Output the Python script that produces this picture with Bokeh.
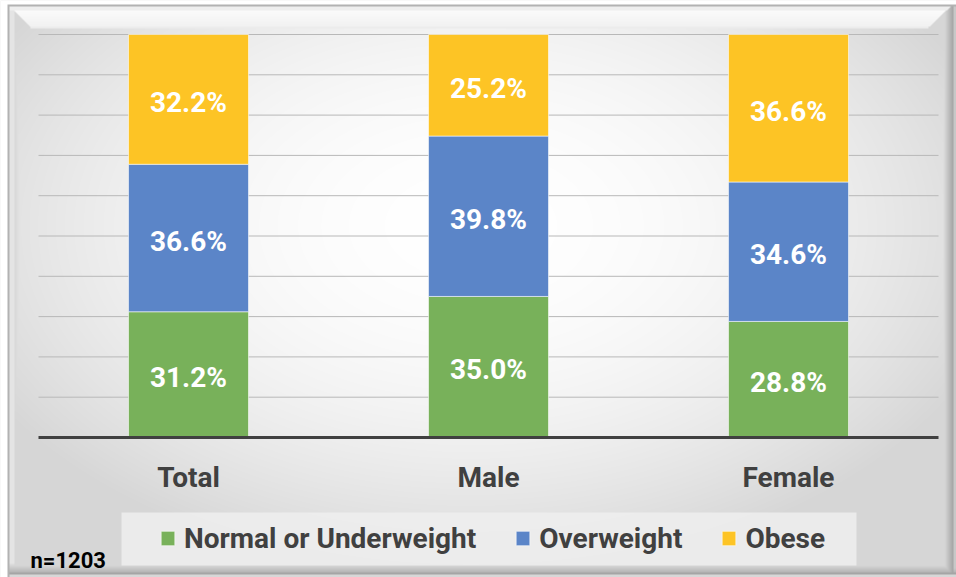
import numpy as np
from bokeh.plotting import figure
from bokeh.models import ColumnDataSource, Range1d, Legend, LegendItem
from bokeh.core.properties import value
from bokeh.embed import file_html
from bokeh.resources import INLINE

# ---- data ----
categories = ["Total", "Male", "Female"]
series = ["Normal or Underweight", "Overweight", "Obese"]
normal = [31.2, 35.0, 28.8]
overweight = [36.6, 39.8, 34.6]
obese = [32.2, 25.2, 36.6]
y_ticks = [10, 20, 30, 40, 50, 60, 70, 80, 90, 100]
note = "n=1203"

colors = ["#78b15a", "#5b85c8", "#fdc425"]
FONT = "Roboto"
TXT = "#404040"

# ---- layout constants (canvas pixels) ----
W, H = 956, 577
PLOT_L, PLOT_R = 38, 938      # horizontal extent of the bar area on the canvas
Y0_PX, Y100_PX = 437, 34      # canvas rows for 0% and 100%
ppu = (Y0_PX - Y100_PX) / 100.0
cat_w = (PLOT_R - PLOT_L) / len(categories)

x_start = -PLOT_L / cat_w
x_end = len(categories) + (W - PLOT_R) / cat_w
y_start = -(H - Y0_PX) / ppu
y_end = 100 + Y100_PX / ppu


def dy(canvas_row):
    return (Y0_PX - canvas_row) / ppu


def dx(canvas_col):
    return (canvas_col - PLOT_L) / cat_w


p = figure(x_range=Range1d(x_start, x_end), y_range=Range1d(y_start, y_end),
           width=W, height=H, output_backend="svg", toolbar_location=None,
           x_axis_type=None, y_axis_type=None, min_border=0)
p.outline_line_color = None
p.border_fill_color = "white"
p.background_fill_color = "#eeeeee"
p.grid.visible = False

# ---- soft radial background with a bevelled frame (style only) ----
yy, xx = np.mgrid[0:H, 0:W].astype(float)
r2 = ((xx - 470) / 520.0) ** 2 + ((yy - 225) / 330.0) ** 2
g = np.clip(255 - 36 * r2, 214, 255)
# left bevel
g = np.where((xx >= 8) & (xx < 14), 228, g)
g = np.where((xx >= 14) & (xx < 22) & (yy > xx), np.minimum(g, 216 + (xx - 14) * 2.5), g)
# top bevel (soft highlight band)
g = np.where((yy >= 5) & (yy < 10), 238, g)
top_band = (yy >= 10) & (yy < 26) & (xx >= yy + 4) & (xx < 955 - yy)
g = np.where(top_band, 251 - (yy - 10) * 0.6, g)
g = np.where((yy >= 26) & (yy < 27.5) & (xx >= 30) & (xx < 928), 236, g)
# right bevel (shadow)
g = np.where((xx >= 942) & (xx < 953) & (xx > 955 - yy), np.minimum(g, 225 - (xx - 942) * 6), g)
g = np.where(xx >= 953, 200, g)
# bottom bevel (shadow)
g = np.where((yy >= 563) & (yy < 572) & (xx >= 8), np.minimum(g, 222 - (yy - 563) * 5), g)
g = np.where((yy >= 572) & (yy < 574) & (xx >= 8), 165, g)
g = np.where((yy >= 574) & (xx >= 8), 215, g)
# outer thin frame line and white margin
g = np.where(((yy >= 4) & (yy < 5.5) & (xx >= 7)) | ((xx >= 7) & (xx < 8.5) & (yy >= 4)), 178, g)
g = np.where((yy < 4) | (xx < 7), 255, g)
g = np.clip(g, 0, 255).astype(np.uint32)
img = ((255 << 24) | (g << 16) | (g << 8) | g).astype(np.uint32)
img = np.ascontiguousarray(img[::-1])
p.image_rgba(image=[img], x=x_start, y=y_start, dw=x_end - x_start,
             dh=y_end - y_start, level="image")

# ---- gridlines ----
n = len(categories)
p.segment(x0=[0] * len(y_ticks), x1=[n] * len(y_ticks), y0=y_ticks, y1=y_ticks,
          line_color="#b8b8b8", line_width=1)

# ---- bars ----
xs = [i + 0.5 for i in range(n)]
src = ColumnDataSource(dict(x=xs, cat=categories, n=normal, o=overweight, b=obese))
rs = p.vbar_stack(["n", "o", "b"], x="x", width=0.4, source=src, color=colors,
                  line_color="white", line_alpha=0.55, line_width=1)

# category axis line
p.segment(x0=[0], x1=[n], y0=[0], y1=[0], line_color=TXT, line_width=3)

# ---- data labels at segment centres ----
lab_x, lab_y, lab_t = [], [], []
for i in range(n):
    base = 0.0
    for vals in (normal, overweight, obese):
        v = vals[i]
        lab_x.append(xs[i])
        lab_y.append(base + v / 2)
        lab_t.append(f"{v:.1f}%")
        base += v
p.text(x=lab_x, y=lab_y, text=lab_t, text_color="white", text_font=value(FONT),
       text_font_size="28px", text_font_style="bold", text_align="center",
       text_baseline="middle", y_offset=3)

# ---- category labels ----
p.text(x=xs, y=[dy(477)] * n, text=categories, text_color=TXT,
       text_font=value(FONT), text_font_size="28px", text_font_style="bold",
       text_align="center", text_baseline="middle")

# ---- legend box + legend ----
p.quad(left=[dx(121)], right=[dx(856)], top=[dy(512)], bottom=[dy(565)],
       fill_color="#efefef", fill_alpha=0.85, line_color=None)

legend = Legend(items=[LegendItem(label=s, renderers=[r]) for s, r in zip(series, rs)],
                orientation="horizontal", location=(159, 21))
legend.label_text_font = FONT
legend.label_text_font_size = "28px"
legend.label_text_font_style = "bold"
legend.label_text_color = TXT
legend.glyph_width = 17
legend.glyph_height = 18
legend.label_height = 36
legend.label_standoff = 8
legend.spacing = 38
legend.padding = 9
legend.margin = 0
legend.background_fill_alpha = 0
legend.border_line_color = None
p.add_layout(legend)

# ---- sample-size note ----
p.text(x=[dx(30)], y=[dy(560)], text=[note], text_color="black",
       text_font=value(FONT), text_font_size="22px", text_font_style="bold",
       text_align="left", text_baseline="alphabetic")

open("out.html", "w").write(file_html(p, INLINE))
